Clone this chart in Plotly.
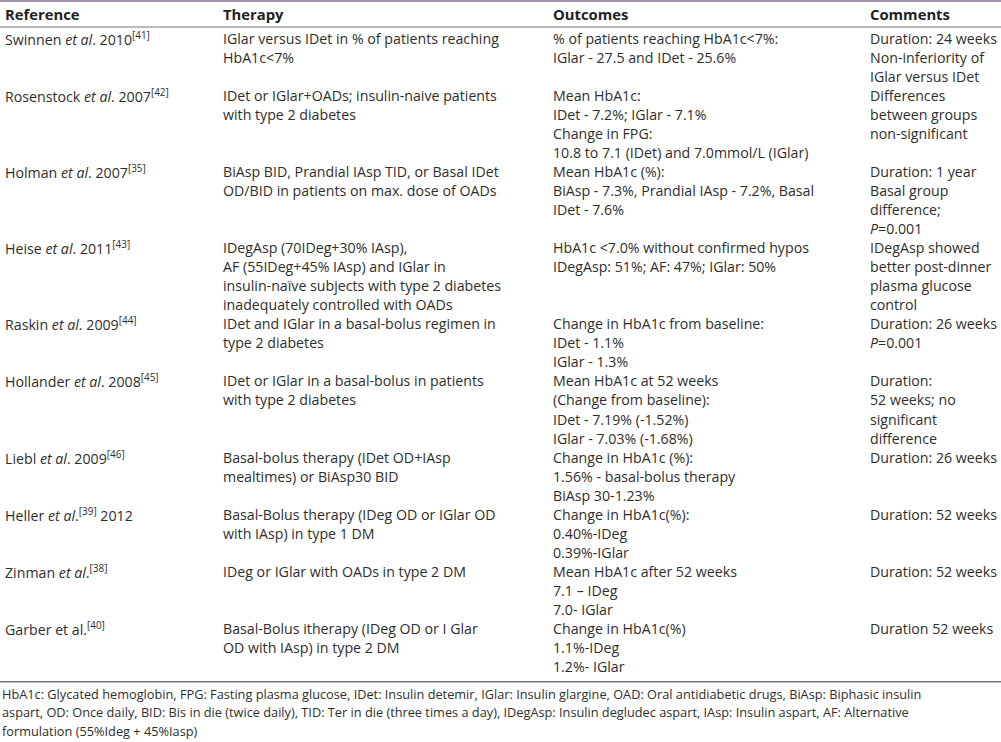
import plotly.graph_objects as go

# ---------------- data ----------------
headers = ["Reference", "Therapy", "Outcomes", "Comments"]

references = [
    ["Swinnen <i>et al</i>. 2010<sup>[41]</sup>"],
    ["Rosenstock <i>et al</i>. 2007<sup>[42]</sup>"],
    ["Holman <i>et al</i>. 2007<sup>[35]</sup>"],
    ["Heise <i>et al</i>. 2011<sup>[43]</sup>"],
    ["Raskin <i>et al</i>. 2009<sup>[44]</sup>"],
    ["Hollander <i>et al</i>. 2008<sup>[45]</sup>"],
    ["Liebl <i>et al</i>. 2009<sup>[46]</sup>"],
    ["Heller <i>et al</i>.<sup>[39]</sup> 2012"],
    ["Zinman <i>et al</i>.<sup>[38]</sup>"],
    ["Garber et al.<sup>[40]</sup>"],
]

therapies = [
    ["IGlar versus IDet in % of patients reaching", "HbA1c<7%"],
    ["IDet or IGlar+OADs; insulin-naive patients", "with type 2 diabetes"],
    ["BiAsp BID, Prandial IAsp TID, or Basal IDet", "OD/BID in patients on max. dose of OADs"],
    ["IDegAsp (70IDeg+30% IAsp),", "AF (55IDeg+45% IAsp) and IGlar in",
     "insulin-naïve subjects with type 2 diabetes", "inadequately controlled with OADs"],
    ["IDet and IGlar in a basal-bolus regimen in", "type 2 diabetes"],
    ["IDet or IGlar in a basal-bolus in patients", "with type 2 diabetes"],
    ["Basal-bolus therapy (IDet OD+IAsp", "mealtimes) or BiAsp30 BID"],
    ["Basal-Bolus therapy (IDeg OD or IGlar OD", "with IAsp) in type 1 DM"],
    ["IDeg or IGlar with OADs in type 2 DM"],
    ["Basal-Bolus itherapy (IDeg OD or I Glar", "OD with IAsp) in type 2 DM"],
]

outcomes = [
    ["% of patients reaching HbA1c<7%:", "IGlar - 27.5 and IDet - 25.6%"],
    ["Mean HbA1c:", "IDet - 7.2%; IGlar - 7.1%", "Change in FPG:",
     "10.8 to 7.1 (IDet) and 7.0mmol/L (IGlar)"],
    ["Mean HbA1c (%):", "BiAsp - 7.3%, Prandial IAsp - 7.2%, Basal", "IDet - 7.6%"],
    ["HbA1c <7.0% without confirmed hypos", "IDegAsp: 51%; AF: 47%; IGlar: 50%"],
    ["Change in HbA1c from baseline:", "IDet - 1.1%", "IGlar - 1.3%"],
    ["Mean HbA1c at 52 weeks", "(Change from baseline):", "IDet - 7.19% (-1.52%)",
     "IGlar - 7.03% (-1.68%)"],
    ["Change in HbA1c (%):", "1.56% - basal-bolus therapy", "BiAsp 30-1.23%"],
    ["Change in HbA1c(%):", "0.40%-IDeg", "0.39%-IGlar"],
    ["Mean HbA1c after 52 weeks", "7.1 – IDeg", "7.0- IGlar"],
    ["Change in HbA1c(%)", "1.1%-IDeg", "1.2%- IGlar"],
]

comments = [
    ["Duration: 24 weeks", "Non-inferiority of", "IGlar versus IDet"],
    ["Differences", "between groups", "non-significant"],
    ["Duration: 1 year", "Basal group", "difference;", "<i>P</i>=0.001"],
    ["IDegAsp showed", "better post-dinner", "plasma glucose", "control"],
    ["Duration: 26 weeks", "<i>P</i>=0.001"],
    ["Duration:", "52 weeks; no", "significant", "difference"],
    ["Duration: 26 weeks"],
    ["Duration: 52 weeks"],
    ["Duration: 52 weeks"],
    ["Duration 52 weeks"],
]

footnote = [
    "HbA1c: Glycated hemoglobin, FPG: Fasting plasma glucose, IDet: Insulin detemir, IGlar: Insulin glargine, "
    "OAD: Oral antidiabetic drugs, BiAsp: Biphasic insulin",
    "aspart, OD: Once daily, BID: Bis in die (twice daily), TID: Ter in die (three times a day), "
    "IDegAsp: Insulin degludec aspart, IAsp: Insulin aspart, AF: Alternative",
    "formulation (55%Ideg + 45%Iasp)",
]

# ---------------- layout settings ----------------
W, H = 1001, 742
col_x = [3, 221, 551, 868]
header_y = 14
first_y = 38
line_h = 19.05
font_family = "'Open Sans', 'Noto Sans', Arial, sans-serif"
text_color = "#2e2e2e"
rule_color = "#7b7189"
body_size = 14.2

fig = go.Figure()
fig.add_trace(go.Scatter(x=[0, W], y=[0, H], mode="markers",
                         marker=dict(opacity=0), hoverinfo="skip", showlegend=False))

ann = []
for cx, h in zip(col_x, headers):
    ann.append(dict(x=cx, y=header_y, text="<b>" + h + "</b>", xanchor="left", yanchor="middle",
                    showarrow=False, font=dict(size=14.8, color="#222222", family=font_family)))

line_idx = 0
columns = [references, therapies, outcomes, comments]
for r in range(len(references)):
    nlines = max(len(col[r]) for col in columns)
    for cx, col in zip(col_x, columns):
        for k, t in enumerate(col[r]):
            ann.append(dict(x=cx, y=first_y + (line_idx + k) * line_h, text=t,
                            xanchor="left", yanchor="middle", showarrow=False,
                            font=dict(size=body_size, color=text_color, family=font_family)))
    line_idx += nlines

table_bottom = first_y + (line_idx - 1) * line_h + 15
for k, t in enumerate(footnote):
    ann.append(dict(x=0, y=table_bottom + 12 + k * 18.6, text=t, xanchor="left", yanchor="middle",
                    showarrow=False, font=dict(size=12.75, color=text_color, family=font_family)))

shapes = [
    dict(type="line", x0=0, x1=W, y0=1, y1=1, line=dict(color=rule_color, width=1.5)),
    dict(type="line", x0=0, x1=W, y0=27, y1=27, line=dict(color=rule_color, width=1.2)),
    dict(type="line", x0=0, x1=W, y0=table_bottom, y1=table_bottom,
         line=dict(color=rule_color, width=1.5)),
]

fig.update_layout(
    width=W, height=H, margin=dict(l=0, r=0, t=0, b=0),
    paper_bgcolor="white", plot_bgcolor="white",
    xaxis=dict(range=[0, W], visible=False, fixedrange=True),
    yaxis=dict(range=[H, 0], visible=False, fixedrange=True),
    annotations=ann, shapes=shapes, showlegend=False,
)
fig.write_html("out.html", config={"displayModeBar": False},
               post_script="document.body.style.margin='0';document.body.style.overflow='hidden';")
